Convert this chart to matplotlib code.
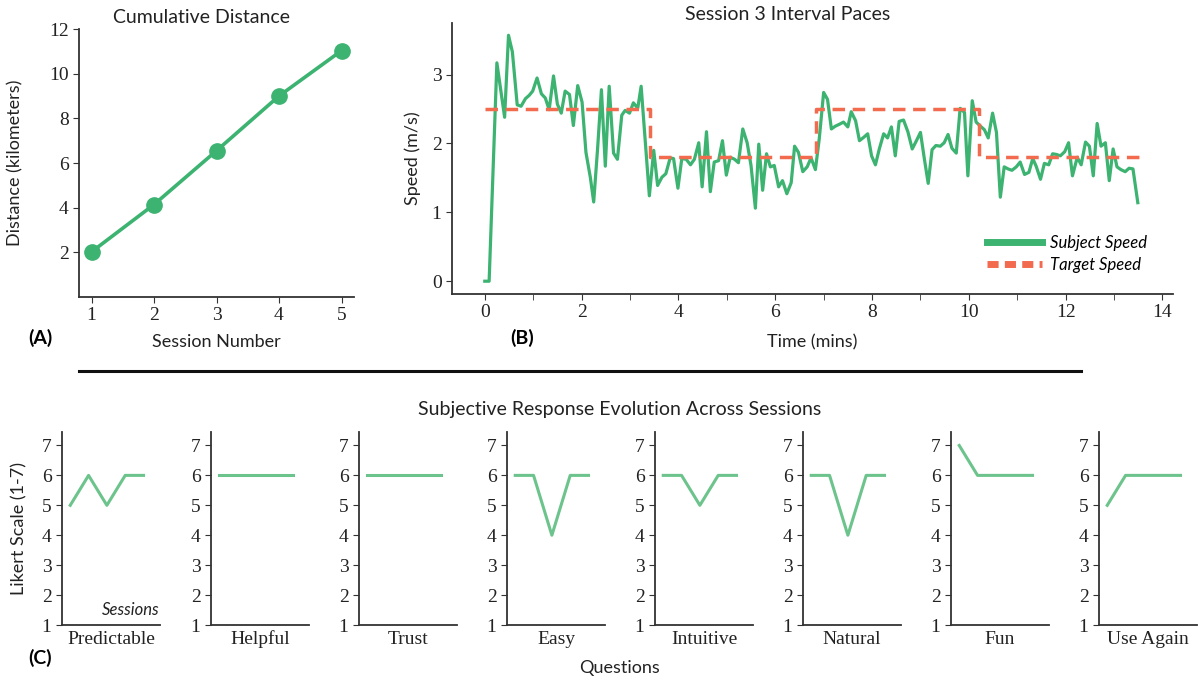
import matplotlib
matplotlib.use("Agg")
import matplotlib.pyplot as plt
from matplotlib.lines import Line2D

# ---------------- data ----------------
sessions = [1, 2, 3, 4, 5]
cum_distance = [2.02, 4.14, 6.55, 9.0, 11.03]

time_min = [0.0, 0.09, 0.25, 0.41, 0.49, 0.57, 0.67, 0.75, 0.84, 0.92, 0.99, 1.08, 1.17, 1.25,
            1.33, 1.42, 1.50, 1.58, 1.66, 1.75, 1.83, 1.92, 2.01, 2.09, 2.18, 2.25, 2.33, 2.41,
            2.49, 2.57, 2.66, 2.74, 2.83, 2.90, 2.99, 3.07, 3.16, 3.23,
            3.40, 3.49, 3.57, 3.66, 3.74, 3.83, 3.90, 3.99, 4.07, 4.16, 4.25, 4.33, 4.42, 4.49,
            4.58, 4.66, 4.74, 4.83, 4.91, 4.99, 5.07, 5.16, 5.24, 5.33, 5.42, 5.50, 5.59, 5.66,
            5.74, 5.82, 5.90, 5.98, 6.07, 6.15, 6.24, 6.33, 6.40, 6.48, 6.57, 6.66, 6.74, 6.83,
            6.91, 7.00, 7.08, 7.16, 7.24, 7.33, 7.41, 7.50, 7.57, 7.66, 7.74, 7.83, 7.91, 7.99,
            8.07, 8.15, 8.24, 8.32, 8.40, 8.48, 8.56, 8.65, 8.74, 8.83, 8.91, 9.00, 9.08, 9.16,
            9.24, 9.32, 9.41, 9.49, 9.57, 9.65, 9.74, 9.82, 9.91, 9.98, 10.07, 10.15,
            10.24, 10.32, 10.40, 10.49, 10.57, 10.65, 10.73, 10.81, 10.89, 10.98, 11.06, 11.15,
            11.24, 11.32, 11.39, 11.48, 11.56, 11.65, 11.73, 11.81, 11.89, 11.98, 12.06, 12.14,
            12.24, 12.32, 12.41, 12.49, 12.57, 12.65, 12.73, 12.82, 12.90, 12.98, 13.06, 13.14,
            13.23, 13.31, 13.39, 13.49]
speed = [0.0, 0.0, 3.17, 2.38, 3.57, 3.33, 2.56, 2.54, 2.65, 2.70, 2.76, 2.95, 2.72, 2.66,
         2.49, 2.98, 2.57, 2.44, 2.76, 2.71, 2.26, 2.84, 2.60, 1.87, 1.51, 1.15, 1.92, 2.78,
         1.67, 2.83, 1.86, 1.77, 2.41, 2.48, 2.44, 2.59, 2.51, 2.83,
         1.24, 1.90, 1.39, 1.51, 1.56, 1.79, 1.78, 1.35, 1.78, 1.77, 1.69, 1.77, 2.01, 1.37,
         2.17, 1.30, 1.73, 1.75, 2.04, 1.54, 1.80, 1.77, 1.72, 2.21, 2.01, 1.68, 1.06, 1.99,
         1.32, 1.85, 1.66, 1.68, 1.37, 1.46, 1.27, 1.43, 1.96, 1.87, 1.59, 1.66, 1.79, 1.62,
         2.07, 2.74, 2.64, 2.21, 2.25, 2.28, 2.31, 2.24, 2.46, 2.33, 2.04, 2.09, 2.14, 1.82,
         1.69, 1.92, 2.14, 2.08, 2.24, 1.82, 2.32, 2.34, 2.17, 1.92, 2.03, 2.16, 1.78, 1.42,
         1.91, 1.97, 1.96, 2.01, 2.13, 1.93, 1.86, 2.51, 2.45, 1.53, 2.62, 2.31,
         2.25, 2.20, 2.08, 2.44, 2.16, 1.22, 1.66, 1.63, 1.61, 1.66, 1.73, 1.55,
         1.58, 1.78, 1.67, 1.48, 1.71, 1.69, 1.85, 1.84, 1.82, 1.88, 2.01, 1.53,
         1.80, 1.69, 2.02, 1.96, 1.53, 2.29, 1.96, 2.01, 1.46, 1.92, 1.66, 1.62,
         1.59, 1.64, 1.63, 1.14]

target_time = [0.0, 3.42, 6.85, 10.2, 13.54]
target_speed = [2.5, 1.8, 2.5, 1.8, 1.8]

questions = ["Predictable", "Helpful", "Trust", "Easy", "Intuitive", "Natural", "Fun", "Use Again"]
likert = [
    [5, 6, 5, 6, 6],
    [6, 6, 6, 6, 6],
    [6, 6, 6, 6, 6],
    [6, 6, 4, 6, 6],
    [6, 6, 5, 6, 6],
    [6, 6, 4, 6, 6],
    [7, 6, 6, 6, 6],
    [5, 6, 6, 6, 6],
]

# ---------------- style ----------------
GREEN = "#3cb371"
LIGHT_GREEN = "#6cc48c"
CORAL = "#f26b4f"
SPINE = "#333333"
TEXT = "#222222"
SANS = "Lato"
SERIF = "Liberation Serif"

plt.rcParams["font.family"] = [SANS, "DejaVu Sans"]
plt.rcParams["axes.edgecolor"] = SPINE
plt.rcParams["axes.linewidth"] = 1.3
plt.rcParams["xtick.color"] = SPINE
plt.rcParams["ytick.color"] = SPINE
plt.rcParams["xtick.major.size"] = 4
plt.rcParams["ytick.major.size"] = 4
plt.rcParams["xtick.minor.size"] = 4

W, H = 1198, 681
fig = plt.figure(figsize=(W / 100, H / 100), dpi=100)


def rect(x0, y0, x1, y1):
    return [x0 / W, 1 - y1 / H, (x1 - x0) / W, (y1 - y0) / H]


def style_ax(ax):
    ax.spines["top"].set_visible(False)
    ax.spines["right"].set_visible(False)
    ax.tick_params(axis="both", which="both", labelsize=14, labelcolor=TEXT,
                   labelfontfamily=SERIF)


# ---------------- Panel A ----------------
axA = fig.add_axes(rect(79, 29, 354, 297))
axA.plot(sessions, cum_distance, color=GREEN, lw=2.6, marker="o", ms=11)
axA.set_xlim(0.8, 5.2)
axA.set_ylim(0, 12)
axA.set_xticks(sessions)
axA.set_yticks([2, 4, 6, 8, 10, 12])
style_ax(axA)
axA.set_title("Cumulative Distance", fontsize=14, x=0.447, color=TEXT, pad=4)
axA.set_xlabel("Session Number", fontsize=13, color=TEXT, labelpad=7)
axA.set_ylabel("Distance (kilometers)", fontsize=13, color=TEXT, labelpad=18)
fig.text(40 / W, 1 - 338 / H, "(A)", fontsize=14, fontweight="bold", va="center", ha="center")

# ---------------- Panel B ----------------
axB = fig.add_axes(rect(452, 23, 1173, 293.5))
axB.plot(time_min, speed, color=GREEN, lw=2.3, label="Subject Speed")
axB.step(target_time, target_speed, where="post", color=CORAL, lw=2.5,
         dashes=(3.6, 2.2), label="Target Speed")
axB.set_xticks([0, 2, 4, 6, 8, 10, 12, 14])
axB.set_xticks(list(range(0, 15)), minor=True)
axB.set_yticks([0, 1, 2, 3])
style_ax(axB)
axB.set_title("Session 3 Interval Paces", fontsize=14, x=0.465, color=TEXT, pad=-0.5)
axB.set_xlabel("Time (mins)", fontsize=13, color=TEXT, labelpad=10)
axB.set_ylabel("Speed (m/s)", fontsize=13, color=TEXT, labelpad=8)
handles = [Line2D([0], [0], color=GREEN, lw=5),
           Line2D([0], [0], color=CORAL, lw=5, dashes=(1.6, 0.9))]
leg = axB.legend(handles, ["Subject Speed", "Target Speed"], loc="lower right",
                 bbox_to_anchor=(0.985, 0.02), frameon=False, handlelength=3.3,
                 handletextpad=0.5, labelspacing=0.35,
                 prop={"family": SANS, "style": "italic", "size": 12})
fig.text(522 / W, 1 - 338 / H, "(B)", fontsize=14, fontweight="bold", va="center", ha="center")

# ---------------- separator ----------------
fig.add_artist(Line2D([79 / W, 1081 / W], [1 - 371 / H, 1 - 371 / H], color="#111111", lw=2.2))

# ---------------- Panel C ----------------
fig.text(620 / W, 1 - 410 / H, "Subjective Response Evolution Across Sessions",
         fontsize=14, ha="center", va="center", color=TEXT)
lefts = [62, 211, 359, 507, 655, 803, 951, 1099]
for i, (q, vals) in enumerate(zip(questions, likert)):
    x0 = lefts[i]
    ax = fig.add_axes(rect(x0, 432, x0 + 98, 625))
    ax.plot(sessions, vals, color=LIGHT_GREEN, lw=2.2)
    ax.set_xlim(0.55, 5.9)
    ax.set_ylim(1, 7.45)
    ax.set_yticks([1, 2, 3, 4, 5, 6, 7])
    ax.set_xticks([])
    style_ax(ax)
    ax.set_xlabel(q, fontsize=14, fontfamily=SERIF, color=TEXT, labelpad=4)
    if i == 0:
        ax.set_ylabel("Likert Scale (1-7)", fontsize=13, color=TEXT, labelpad=10)
        ax.text(1.0, 0.035, "Sessions", transform=ax.transAxes, ha="right", va="bottom",
                fontsize=12, style="italic", color=TEXT)

fig.text(620 / W, 1 - 668 / H, "Questions", fontsize=13, ha="center", va="center", color=TEXT)
fig.text(40 / W, 1 - 658 / H, "(C)", fontsize=14, fontweight="bold", va="center", ha="center")

fig.savefig("out.png", dpi=100)
